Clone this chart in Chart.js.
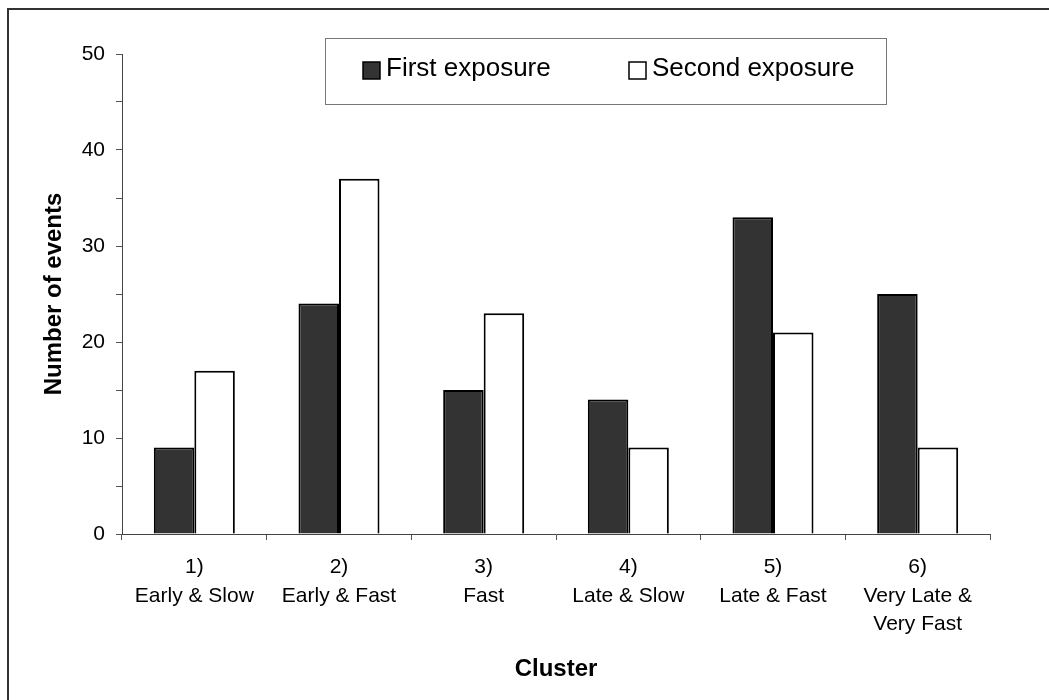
<!DOCTYPE html>
<html lang="en">

<head>
    <meta charset="UTF-8">
    <title>Cluster events</title>
    <style>
        html, body { margin: 0; padding: 0; background: #fff; overflow: hidden; }
        #wrap { position: relative; width: 1049px; height: 700px; }
    </style>
</head>

<script src="https://cdn.jsdelivr.net/npm/chart.js"></script>

<body>
    <div id="wrap">
        <canvas id="myChart" width="1049" height="700"></canvas>
    </div>
</body>

<script>
    const clusters = [
        ['1)', 'Early & Slow'],
        ['2)', 'Early & Fast'],
        ['3)', 'Fast'],
        ['4)', 'Late & Slow'],
        ['5)', 'Late & Fast'],
        ['6)', 'Very Late &', 'Very Fast']
    ]
    const firstExposure = [9, 24, 15, 14, 33, 25]
    const secondExposure = [17, 37, 23, 9, 21, 9]
    const seriesNames = ['First exposure', 'Second exposure']

    const FONT = "Arial, 'Liberation Sans', sans-serif"

    // frame around the picture and the boxed legend at the top
    const framePlugin = {
        id: 'frame',
        beforeDraw(chart) {
            const c = chart.ctx
            c.save()
            c.fillStyle = '#fff'
            c.fillRect(0, 0, chart.width, chart.height)
            c.strokeStyle = '#333'
            c.lineWidth = 2
            c.strokeRect(8, 9, chart.width + 20, chart.height + 20)
            c.restore()
        },
        afterDraw(chart) {
            const c = chart.ctx
            c.save()
            c.fillStyle = '#fff'
            c.fillRect(325, 38, 561, 66)
            c.strokeStyle = '#777'
            c.lineWidth = 1
            c.strokeRect(325.5, 38.5, 561, 66)
            const xs = [363, 629]
            chart.data.datasets.forEach((ds, i) => {
                c.fillStyle = ds.backgroundColor
                c.fillRect(xs[i], 62, 17, 17)
                c.strokeStyle = '#000'
                c.lineWidth = 1.5
                c.strokeRect(xs[i], 62, 17, 17)
                c.fillStyle = '#000'
                c.font = '26px ' + FONT
                c.textBaseline = 'alphabetic'
                c.fillText(ds.label, xs[i] + 23, 76)
            })
            c.restore()
        }
    }

    const ctx = document.getElementById('myChart')

    window.clusterChart = new Chart(ctx, {
        type: 'bar',
        data: {
            labels: clusters,
            datasets: [{
                label: seriesNames[0],
                data: firstExposure,
                backgroundColor: '#333333',
                borderColor: '#000',
                borderWidth: 2
            }, {
                label: seriesNames[1],
                data: secondExposure,
                backgroundColor: '#ffffff',
                borderColor: '#000',
                borderWidth: 2
            }]
        },
        options: {
            responsive: false,
            animation: false,
            layout: { padding: { left: 0, top: 54, right: 59, bottom: 0 } },
            datasets: { bar: { categoryPercentage: 0.56, barPercentage: 1 } },
            plugins: {
                legend: { display: false },
                tooltip: { enabled: false }
            },
            scales: {
                x: {
                    grid: { display: true, drawOnChartArea: false, drawTicks: true, tickLength: 6, tickColor: '#555', offset: true },
                    border: { color: '#444', width: 1 },
                    ticks: { color: '#000', font: { family: FONT, size: 21, lineHeight: 1.36 }, padding: 13, maxRotation: 0, autoSkip: false },
                    title: { display: true, text: 'Cluster', color: '#000', font: { family: FONT, size: 24, weight: 'bold' }, padding: { top: 0, bottom: 16 } },
                    afterFit(axis) { axis.height = 166 }
                },
                y: {
                    min: 0,
                    max: 50,
                    grid: { display: true, drawOnChartArea: false, drawTicks: true, tickLength: 6, tickColor: '#555' },
                    border: { color: '#444', width: 1 },
                    ticks: {
                        stepSize: 5,
                        color: '#000',
                        padding: 11,
                        font: { family: FONT, size: 21 },
                        callback: v => v % 10 === 0 ? v : ''
                    },
                    title: { display: true, text: 'Number of events', color: '#000', font: { family: FONT, size: 24, weight: 'bold' }, padding: { top: 40, bottom: 0 } },
                    afterFit(axis) { axis.width = 122 }
                }
            }
        },
        plugins: [framePlugin]
    })
</script>

</html>
